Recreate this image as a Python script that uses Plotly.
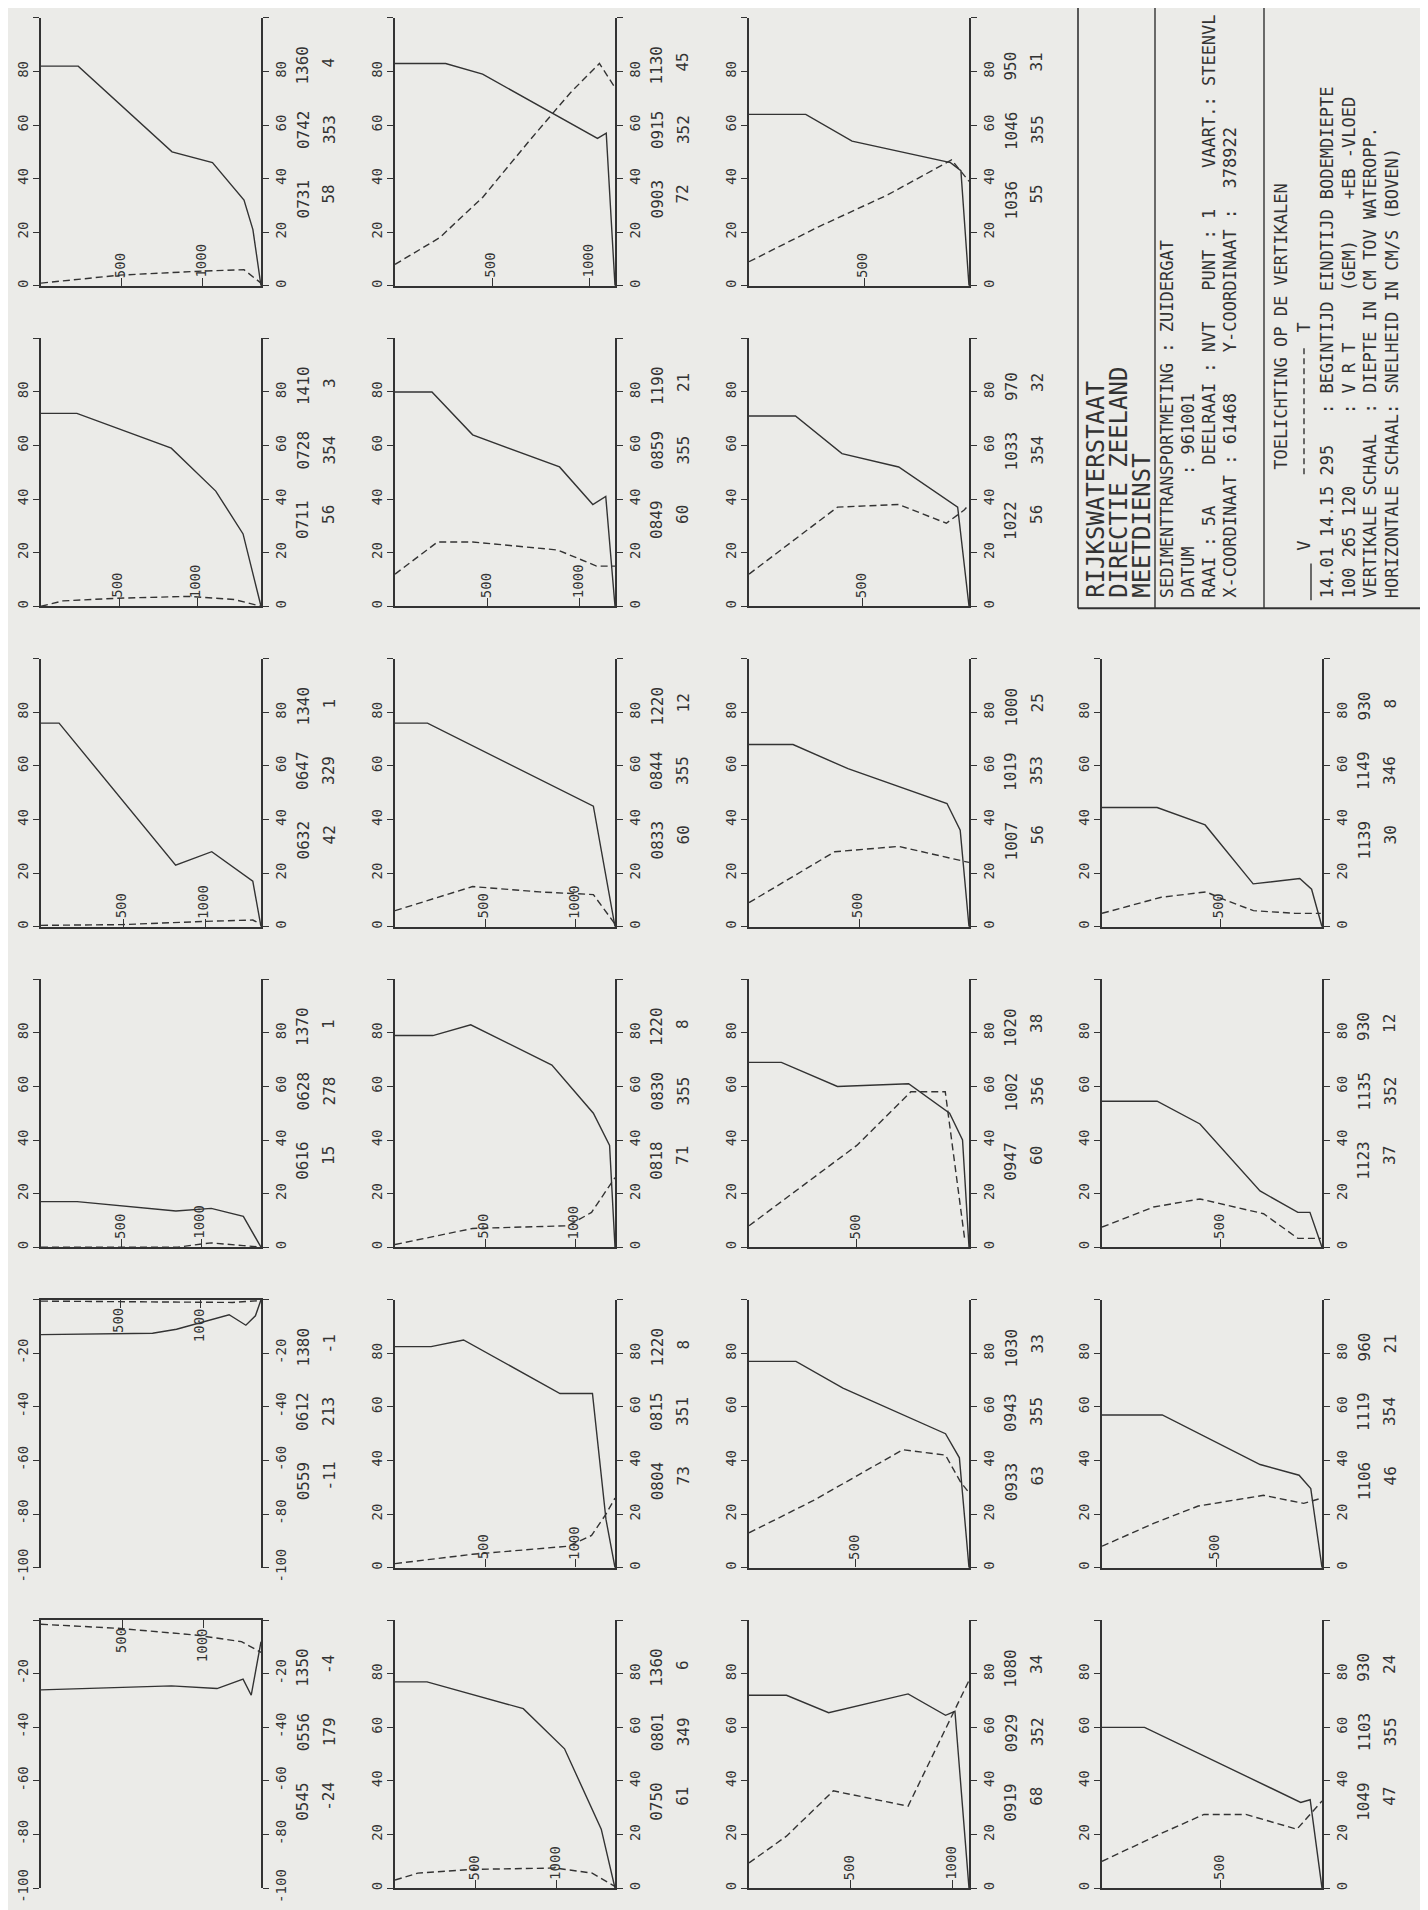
import plotly.graph_objects as go

# ---------------------------------------------------------------- data
# one vertical per panel: begin time, end time, bottom depth (cm), V (gem), R, T
begin_time = ["0731", "0903", "1036", "0711", "0849", "1022", "0632", "0833", "1007", "1139",
              "0616", "0818", "0947", "1123", "0559", "0804", "0933", "1106", "0545", "0750",
              "0919", "1049"]
end_time = ["0742", "0915", "1046", "0728", "0859", "1033", "0647", "0844", "1019", "1149",
            "0628", "0830", "1002", "1135", "0612", "0815", "0943", "1119", "0556", "0801",
            "0929", "1103"]
bottom_depth = [1360, 1130, 950, 1410, 1190, 970, 1340, 1220, 1000, 930,
                1370, 1220, 1020, 930, 1380, 1220, 1030, 960, 1350, 1360, 1080, 930]
v_mean = [58, 72, 55, 56, 60, 56, 42, 60, 56, 30, 15, 71, 60, 37, -11, 73, 63, 46, -24, 61, 68, 47]
r_dir = [353, 352, 355, 354, 355, 354, 329, 355, 353, 346, 278, 355, 356, 352, 213, 351, 355, 354,
         179, 349, 352, 355]
t_mean = [4, 45, 31, 3, 21, 32, 1, 12, 25, 8, 1, 8, 38, 12, -1, 8, 33, 21, -4, 6, 34, 24]

# velocity profiles V (solid) : depth (cm) / speed (cm/s)
v_0731_d = [0, 230, 810, 1060, 1255, 1310, 1360]
v_0731_s = [82, 82, 50, 46, 32, 21, 0]
v_0903_d = [0, 260, 450, 1040, 1085, 1130]
v_0903_s = [83, 83, 79, 55, 57, 0]
v_1036_d = [0, 245, 445, 870, 915, 950]
v_1036_s = [64, 64, 54, 46, 43, 0]
v_0711_d = [0, 230, 835, 1120, 1295, 1410]
v_0711_s = [72, 72, 59, 43, 27, 0]
v_0849_d = [0, 200, 420, 890, 1070, 1140, 1190]
v_0849_s = [80, 80, 64, 52, 38, 41, 0]
v_1022_d = [0, 205, 410, 660, 920, 970]
v_1022_s = [71, 71, 57, 52, 37, 0]
v_0632_d = [0, 110, 820, 1040, 1290, 1340]
v_0632_s = [76, 76, 23, 28, 17, 0]
v_0833_d = [0, 180, 1100, 1220]
v_0833_s = [76, 76, 45, 0]
v_1007_d = [0, 200, 450, 900, 960, 1000]
v_1007_s = [68, 68, 59, 46, 36, 0]
v_1139_d = [0, 233, 436, 639, 836, 886, 930]
v_1139_s = [44.5, 44.5, 38, 16, 18, 14, 0]
v_0616_d = [0, 225, 840, 1060, 1260, 1370]
v_0616_s = [17, 17, 13.5, 14.5, 11.5, 0]
v_0818_d = [0, 210, 420, 870, 1100, 1190, 1220]
v_0818_s = [79, 79, 83, 68, 50, 38, 0]
v_0947_d = [0, 150, 410, 740, 930, 990, 1020]
v_0947_s = [69, 69, 60, 61, 50, 40, 0]
v_1123_d = [0, 233, 414, 668, 828, 879, 930]
v_1123_s = [54.5, 54.5, 46, 21, 13, 13, 0]
v_0559_d = [0, 700, 850, 970, 1180, 1285, 1345, 1380]
v_0559_s = [-13, -12.5, -11, -9, -5.6, -9.5, -6, 0]
v_0804_d = [0, 200, 380, 915, 1095, 1170, 1220]
v_0804_s = [82.5, 82.5, 85, 65, 65, 18, 0]
v_0933_d = [0, 220, 440, 920, 985, 1030]
v_0933_s = [77, 77, 67, 50, 41, 0]
v_1106_d = [0, 263, 690, 860, 911, 960]
v_1106_s = [57, 57, 38.5, 34.5, 29.5, 0]
v_0545_d = [0, 800, 1080, 1240, 1290, 1350]
v_0545_s = [-26, -24.5, -25.5, -22, -28, -8]
v_0750_d = [0, 198, 793, 1048, 1275, 1360]
v_0750_s = [77, 77, 67, 52, 22, 0]
v_0919_d = [0, 184, 391, 781, 965, 1011, 1080]
v_0919_s = [72, 72, 65.5, 72.5, 64.5, 66, 0]
v_1049_d = [0, 180, 840, 880, 930]
v_1049_s = [60, 60, 32, 33, 0]

# T profiles (dashed) : depth (cm) / value
t_0731_d = [0, 490, 1000, 1255, 1360]
t_0731_v = [1, 4, 5.5, 6, 1]
t_0903_d = [0, 230, 450, 700, 900, 1050, 1130]
t_0903_v = [8, 18, 33, 55, 72, 83, 74]
t_1036_d = [0, 300, 600, 875, 950]
t_1036_v = [9, 22, 34, 47, 39]
t_0711_d = [0, 140, 490, 950, 1240, 1410]
t_0711_v = [0, 2, 3, 3.7, 2.5, 0]
t_0849_d = [0, 230, 420, 880, 1090, 1190]
t_0849_v = [12, 24, 24, 21, 15, 15]
t_1022_d = [0, 390, 660, 870, 950, 970]
t_1022_v = [12, 37, 38, 31, 36, 38]
t_0632_d = [0, 500, 1000, 1290, 1340]
t_0632_v = [0.5, 0.8, 2, 2.5, 1]
t_0833_d = [0, 430, 800, 1100, 1220]
t_0833_v = [6, 15, 13, 12, 1]
t_1007_d = [0, 390, 680, 1000]
t_1007_v = [9, 28, 30, 24]
t_1139_d = [0, 250, 440, 520, 640, 815, 925]
t_1139_v = [5, 11, 13, 10, 6, 5, 5]
t_0616_d = [0, 850, 1000, 1060, 1260, 1370]
t_0616_v = [0, 0, 1.2, 1.6, 0.6, 0]
t_0818_d = [0, 430, 960, 1090, 1220]
t_0818_v = [1, 7, 8, 13, 26]
t_0947_d = [0, 500, 750, 910, 1000]
t_0947_v = [8, 38, 58, 58, 3]
t_1123_d = [0, 218, 414, 683, 828, 925]
t_1123_v = [7.5, 15, 18, 12.5, 3.3, 3.3]
t_0559_d = [0, 700, 1200, 1380]
t_0559_v = [-0.5, -0.8, -1, -0.3]
t_0804_d = [0, 430, 960, 1090, 1170, 1220]
t_0804_v = [1.5, 5, 8, 12, 20, 26]
t_0933_d = [0, 300, 720, 920, 990, 1030]
t_0933_v = [13, 25, 44, 42, 32, 28]
t_1106_d = [0, 225, 420, 705, 880, 960]
t_1106_v = [8, 16.5, 23, 27, 24, 26]
t_0545_d = [0, 470, 945, 1230, 1350]
t_0545_v = [-1.5, -3, -5.5, -8, -12]
t_0750_d = [0, 141, 482, 991, 1219, 1360]
t_0750_v = [3, 5.6, 7, 7.5, 5.6, 0.6]
t_0919_d = [0, 184, 414, 781, 1080]
t_0919_v = [9.4, 19.4, 36.3, 30.6, 77.5]
t_1049_d = [0, 255, 431, 608, 824, 930]
t_1049_v = [10, 20.6, 27.5, 27.5, 22, 32.5]

pos_ticks = [0, 20, 40, 60, 80, 100]
pos_labels = ["0", "20", "40", "60", "80", ""]
neg_ticks = [-100, -80, -60, -40, -20, 0]
neg_labels = ["-100", "-80", "-60", "-40", "-20", ""]
depth_ticks = [500, 1000]

info_big = ["RIJKSWATERSTAAT", "DIRECTIE ZEELAND", "MEETDIENST"]
info_mid = ["SEDIMENTTRANSPORTMETING : ZUIDERGAT",
            "DATUM       : 961001",
            "RAAI : 5A    DEELRAAI : NVT   PUNT : 1    VAART.: STEENVL",
            "X-COORDINAAT : 61468    Y-COORDINAAT :  378922"]
info_head = "TOELICHTING OP DE VERTIKALEN"
info_legend = ["V", "T"]
info_low = ["14.01 14.15 295   : BEGINTIJD EINDTIJD BODEMDIEPTE",
            "100 265 120       : V R T     (GEM)    +EB -VLOED",
            "VERTIKALE SCHAAL  : DIEPTE IN CM TOV WATEROPP.",
            "HORIZONTALE SCHAAL: SNELHEID IN CM/S (BOVEN)"]

g = globals()
profiles = {}
for key in begin_time:
    profiles[key] = (g["v_%s_d" % key], g["v_%s_s" % key], g["t_%s_d" % key], g["t_%s_v" % key])

# ---------------------------------------------------------------- layout
W, H = 1428, 1910
INK = "#333333"
PAPER = "#ebebe8"
MONO = "DejaVu Sans Mono"

col_left = [33, 387, 741, 1094]
panel_w = 220
row_base = [280, 603, 926, 1249, 1572, 1895]
panel_h = 270
grid_pos = [(0, 0), (0, 1), (0, 2), (1, 0), (1, 1), (1, 2), (2, 0), (2, 1), (2, 2), (2, 3),
            (3, 0), (3, 1), (3, 2), (3, 3), (4, 0), (4, 1), (4, 2), (4, 3), (5, 0), (5, 1),
            (5, 2), (5, 3)]


def pxf(x):
    return x / W


def pyf(y):
    return (H - y) / H


fig = go.Figure()
n = len(begin_time)
lay = {}
annotations = []
shapes = []
tickfont = dict(family=MONO, size=14, color=INK)

for i in range(n):
    k = i + 1
    s = "" if k == 1 else str(k)
    sr = str(k + n)
    r, c = grid_pos[i]
    L = col_left[c]
    R = L + panel_w
    Bp = row_base[r]
    Tp = Bp - panel_h
    D = bottom_depth[i]
    neg = v_mean[i] < 0
    yr = [-100, 0] if neg else [0, 100]
    yt = neg_ticks if neg else pos_ticks
    ytt = neg_labels if neg else pos_labels
    dt = [d for d in depth_ticks if d < D - 30]

    lay["xaxis" + s] = dict(domain=[pxf(L), pxf(R)], range=[0, D], anchor="y" + s,
                           side="top" if neg else "bottom", showline=True, linecolor=INK,
                           linewidth=2.4, ticks="inside", ticklen=8, tickwidth=1.3,
                           tickcolor=INK, tickvals=dt, showticklabels=False,
                           showgrid=False, zeroline=False, fixedrange=True)
    ycommon = dict(range=yr, showline=True, linecolor=INK, linewidth=1.5, ticks="outside",
                   ticklen=6, tickwidth=1.3, tickcolor=INK, tickvals=yt, ticktext=ytt,
                   tickangle=-90, tickfont=tickfont, showgrid=False, zeroline=False,
                   fixedrange=True)
    lay["yaxis" + s] = dict(domain=[pyf(Bp), pyf(Tp)], anchor="x" + s, side="left", **ycommon)
    lay["yaxis" + sr] = dict(overlaying="y" + s, anchor="x" + s, side="right", **ycommon)

    vd, vs, td, tv = profiles[begin_time[i]]
    fig.add_trace(go.Scatter(x=vd, y=vs, mode="lines", xaxis="x" + s, yaxis="y" + s,
                             line=dict(color=INK, width=1.4), cliponaxis=False,
                             hoverinfo="skip", showlegend=False))
    fig.add_trace(go.Scatter(x=td, y=tv, mode="lines", xaxis="x" + s, yaxis="y" + sr,
                             line=dict(color=INK, width=1.4, dash="7px,4px"), cliponaxis=False,
                             hoverinfo="skip", showlegend=False))

    # depth tick labels, inside the panel next to the baseline
    for d in dt:
        annotations.append(dict(x=d, y=0, xref="x" + s, yref="y" + s, text=str(d),
                                showarrow=False, textangle=-90, xanchor="center",
                                yanchor="top" if neg else "bottom",
                                yshift=-6 if neg else 6, xshift=-2,
                                font=dict(family=MONO, size=14, color=INK)))

    line1 = [begin_time[i], end_time[i], str(bottom_depth[i])]
    line2 = [str(v_mean[i]), str(r_dir[i]), str(t_mean[i])]
    for txt, off in zip(line1, [87, 157, 222]):
        annotations.append(dict(x=pxf(R + 42), y=pyf(Bp - off), xref="paper", yref="paper",
                                text=txt, showarrow=False, textangle=-90, xanchor="center",
                                yanchor="middle", font=dict(family=MONO, size=16, color=INK)))
    for txt, off in zip(line2, [92, 157, 225]):
        annotations.append(dict(x=pxf(R + 68), y=pyf(Bp - off), xref="paper", yref="paper",
                                text=txt, showarrow=False, textangle=-90, xanchor="center",
                                yanchor="middle", font=dict(family=MONO, size=16, color=INK)))

# ---------------------------------------------------------------- info box
box_l, box_b = 1070, 605
div1, div2 = 1147, 1256


def pline(x0, y0, x1, y1, w=1.5, dash=None):
    d = dict(type="line", xref="paper", yref="paper", x0=pxf(x0), y0=pyf(y0), x1=pxf(x1),
             y1=pyf(y1), line=dict(color=INK, width=w))
    if dash:
        d["line"]["dash"] = dash
    return d


shapes.append(pline(box_l, 0, box_l, box_b, 1.6))
shapes.append(pline(box_l, box_b, W, box_b, 2.0))
shapes.append(pline(div1, 0, div1, box_b, 1.4))
shapes.append(pline(div2, 0, div2, box_b, 1.4))


def vtext(x, y, txt, size, anchor="bottom"):
    return dict(x=pxf(x), y=pyf(y), xref="paper", yref="paper", text=txt, showarrow=False,
                textangle=-90, xanchor="center", yanchor=anchor,
                font=dict(family=MONO, size=size, color=INK))


start = 597
for txt, x in zip(info_big, [1088, 1111, 1134]):
    annotations.append(vtext(x, start, txt, 24))
for txt, x in zip(info_mid, [1159, 1180, 1201, 1222]):
    annotations.append(vtext(x, start, txt.replace(" ", "&nbsp;"), 17))
annotations.append(vtext(1273, 468, info_head, 17))
# legend: solid line + V, dashed line + T
shapes.append(pline(1303, start, 1303, 560, 1.4))
annotations.append(vtext(1296, 542, info_legend[0], 17, "middle"))
shapes.append(pline(1296, 470, 1296, 340, 1.4, "6px,4px"))
annotations.append(vtext(1296, 322, info_legend[1], 17, "middle"))
for txt, x in zip(info_low, [1319, 1341, 1362, 1384]):
    annotations.append(vtext(x, start, txt.replace(" ", "&nbsp;"), 17))

fig.update_layout(width=W, height=H, margin=dict(l=0, r=0, t=0, b=0),
                  paper_bgcolor=PAPER, plot_bgcolor="rgba(0,0,0,0)",
                  annotations=annotations, shapes=shapes, hovermode=False,
                  showlegend=False, **lay)

fig.write_html("out.html")
